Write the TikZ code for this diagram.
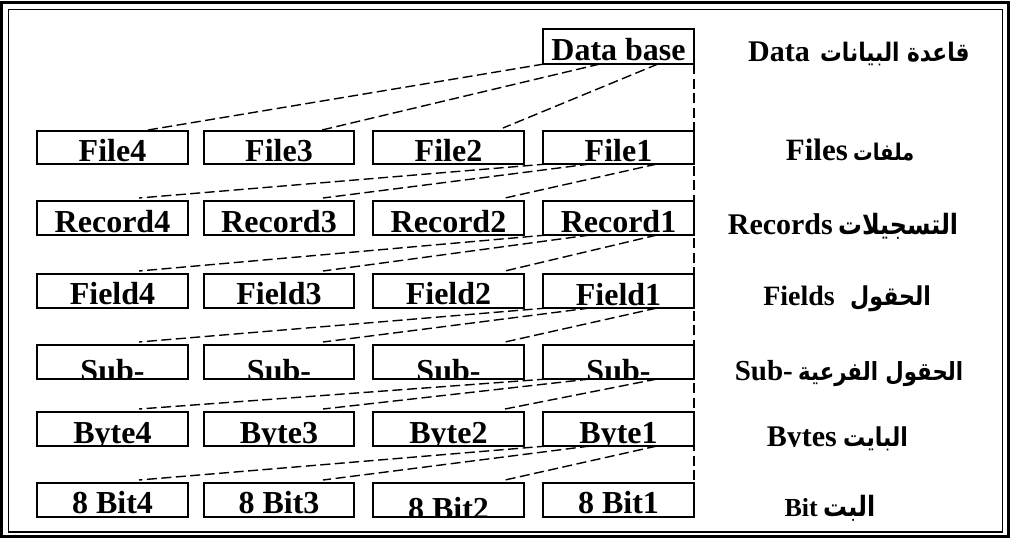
\documentclass[tikz,border=0pt]{standalone}
\usepackage{fontspec}
\setmainfont{Liberation Serif}
\newfontfamily\arfont[Script=Arabic, FakeStretch=0.85]{DejaVu Sans}
\TeXXeTstate=1
\begin{document}
\begin{tikzpicture}[x=1pt,y=-1pt,
  box/.style={draw, line width=1.6pt, minimum width=151pt, minimum height=34pt,
    inner sep=0pt, outer sep=0pt, anchor=north west},
  txt/.style 2 args={path picture={\node[anchor=base, inner sep=0pt,
    font=\bfseries\fontsize{32}{36}\selectfont]
    at ([yshift=#2]path picture bounding box.south) {#1};}},
  conn/.style={line width=1.4pt, dash pattern=on 10pt off 4.5pt},
  lat/.style={anchor=base east, inner sep=0pt, font=\bfseries\fontsize{#1}{#1}\selectfont},
  arab/.style={anchor=base west, inner sep=0pt, font=\arfont\bfseries\fontsize{#1}{#1}\selectfont},
]
\useasboundingbox (0,0) rectangle (1011,538);

% double frame
\draw[line width=2.8pt] (1.5,2.5) rectangle (1008.8,536.2);
\draw[line width=1.3pt] (8.3,9.6) rectangle (1002.5,532);

% database
\node[box, minimum height=35pt, txt={Data base}{3.3pt}] (db) at (543,29) {};

% files
\node[box, minimum height=33pt, txt={File4}{3pt}] (f4) at (37,131) {};
\node[box, minimum height=33pt, minimum width=150pt, txt={File3}{3pt}] (f3) at (204,131) {};
\node[box, minimum height=33pt, txt={File2}{3pt}] (f2) at (373,131) {};
\node[box, minimum height=33pt, txt={File1}{3pt}] (f1) at (543,131) {};

% records
\node[box, txt={Record4}{3pt}] (r4) at (37,201) {};
\node[box, minimum width=150pt, txt={Record3}{3pt}] (r3) at (204,201) {};
\node[box, txt={Record2}{3pt}] (r2) at (373,201) {};
\node[box, txt={Record1}{3pt}] (r1) at (543,201) {};

% fields
\node[box, txt={Field4}{4pt}] (d4) at (37,274) {};
\node[box, minimum width=150pt, txt={Field3}{4pt}] (d3) at (204,274) {};
\node[box, txt={Field2}{4pt}] (d2) at (373,274) {};
\node[box, txt={Field1}{3pt}] (d1) at (543,274) {};

% sub-fields
\node[box, txt={Sub-}{-2pt}] (s4) at (37,345) {};
\node[box, minimum width=150pt, txt={Sub-}{-2pt}] (s3) at (204,345) {};
\node[box, txt={Sub-}{-2pt}] (s2) at (373,345) {};
\node[box, txt={Sub-}{-2pt}] (s1) at (543,345) {};

% bytes
\node[box, txt={Byte4}{3pt}] (y4) at (37,412) {};
\node[box, minimum width=150pt, txt={Byte3}{3pt}] (y3) at (204,412) {};
\node[box, txt={Byte2}{3pt}] (y2) at (373,412) {};
\node[box, txt={Byte1}{3pt}] (y1) at (543,412) {};

% bits
\node[box, txt={8 Bit4}{4pt}] (t4) at (37,483) {};
\node[box, minimum width=150pt, txt={8 Bit3}{4pt}] (t3) at (204,483) {};
\node[box, txt={8 Bit2}{-2pt}] (t2) at (373,483) {};
\node[box, txt={8 Bit1}{4pt}] (t1) at (543,483) {};

% fan-out from the database
\draw[conn] ([xshift=1pt]db.south west) -- ([xshift=111pt,yshift=1pt]f4.north west);
\draw[conn] ([xshift=57pt]db.south west) -- ([xshift=118pt,yshift=1pt]f3.north west);
\draw[conn] ([xshift=115pt]db.south west) -- ([xshift=130pt,yshift=3pt]f2.north west);
\draw[conn] (db.south east) -- (t1.north east);

% fan-out from each level to the next
\foreach \u/\l in {f/r, r/d, d/s, s/y, y/t} {
  \draw[conn] ([xshift=4pt]\u1.south west) -- ([xshift=102pt,yshift=3pt]\l4.north west);
  \draw[conn] ([xshift=47pt]\u1.south west) -- ([xshift=119pt,yshift=3pt]\l3.north west);
  \draw[conn] ([xshift=114pt]\u1.south west) -- ([xshift=132pt,yshift=3pt]\l2.north west);
}

% level names
\node[lat=30] (la) at (810,61) {Data};
\node[arab=25.5] (aa) at (820,61) {\beginR قاعدة البيانات\endR};
\node[lat=31] (lb) at (848,160) {Files};
\node[arab=23] (ab) at (853,160) {\beginR ملفات\endR};
\node[lat=30] (lc) at (833,234) {Records};
\node[arab=28] (ac) at (838,234) {\beginR التسجيلات\endR};
\node[lat=28] (ld) at (835,305) {Fields};
\node[arab=26] (ad) at (850,305) {\beginR الحقول\endR};
\node[lat=29] (le) at (793,380) {Sub-};
\node[arab=25] (ae) at (798,380) {\beginR الحقول الفرعية\endR};
\begin{scope}
  \clip (700,400) rectangle (840,446.8);
  \node[lat=30] (lf) at (837,446) {Bytes};
\end{scope}
\node[arab=26] (af) at (843,446) {\beginR البايت\endR};
\node[lat=26] (lg) at (818,516) {Bit};
\node[arab=28] (ag) at (823,516) {\beginR البت\endR};
\end{tikzpicture}
\end{document}
